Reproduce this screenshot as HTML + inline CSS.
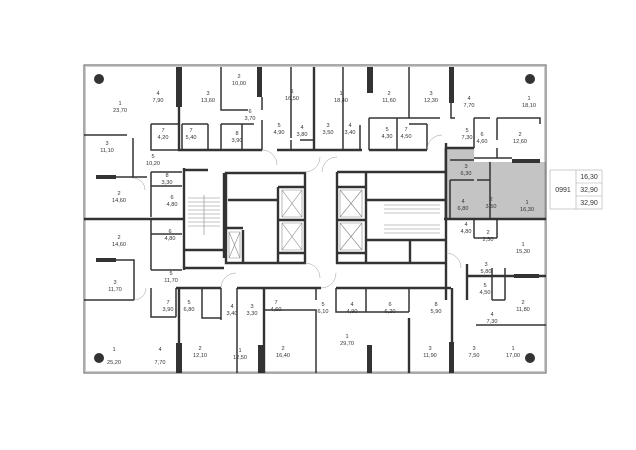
<!DOCTYPE html>
<html><head><meta charset="utf-8"><style>
html,body{margin:0;padding:0;background:#fff;}
svg{display:block;}
text{font-family:"Liberation Sans",sans-serif;font-size:5.6px;fill:#333;text-anchor:middle;}
</style></head><body>
<svg width="636" height="450" viewBox="0 0 636 450" xmlns="http://www.w3.org/2000/svg">
<rect width="636" height="450" fill="#fff"/>
<polygon points="444,148 474,148 474,162 546,162 546,219 444,219" fill="#c4c4c4"/>
<rect x="84" y="65" width="462" height="308" fill="none" stroke="#555" stroke-width="1"/>
<rect x="85.5" y="66.5" width="459" height="305" fill="none" stroke="#999" stroke-width="0.5"/>
<g fill="#333">
<circle cx="99" cy="79" r="5"/><circle cx="530" cy="79" r="5"/>
<circle cx="99" cy="358" r="5"/><circle cx="530" cy="358" r="5"/>
<rect x="176" y="67" width="6" height="40"/><rect x="257" y="67" width="5" height="30"/>
<rect x="367" y="67" width="6" height="26"/><rect x="449" y="67" width="5" height="36"/>
<rect x="96" y="175" width="20" height="4"/><rect x="96" y="258" width="20" height="4"/>
<rect x="512" y="159" width="28" height="4"/><rect x="514" y="274" width="25" height="4"/>
<rect x="176" y="343" width="6" height="30"/><rect x="258" y="345" width="5" height="28"/>
<rect x="367" y="345" width="5" height="28"/><rect x="449" y="342" width="5" height="31"/>
</g>
<g stroke="#333" stroke-width="2.4" fill="none">
<path d="M179,67 V150 H262 M277,150 H362 M369,150 H427"/>
<path d="M314,67 V150"/>
<path d="M84,219 H184"/>
<path d="M446,143 V300"/>
<path d="M444,219 H546"/>
<path d="M446,148 H474"/>
<path d="M176,288 H221 M237,288 H321 M336,288 H451"/>
<path d="M179,288 V373 M264,288 V373 M409,318 V373 M452,288 V373"/>
<path d="M467,264 V300 M467,276 H546"/>
<path d="M184,168 V270 M184,170 H208 M184,268 H224 M224,173 V258 M184,250 H224"/>
<path d="M226,173 H305 V263 H226 Z M228,200 H278 M278,187 V263 M278,187 H305 M278,253 H305 M278,220 H305 M243,230 V263 M226,228 H243"/>
<path d="M337,172 H445 M337,172 V263 H366 M366,172 V263 M337,187 H366 M337,253 H366 M337,220 H366 M366,200 H445 M366,240 H445 M366,263 H445 M366,180 V200 M410,240 V263"/>
</g>
<g stroke="#333" stroke-width="1.5" fill="none">
<path d="M221,67 V110 H248 M262,97 V110 M262,120 V150"/>
<path d="M151,124 V150 H179 M151,124 H179 M182,124 H208 M182,124 V150 M208,124 V150 M221,124 V150 M242,124 V150 M221,124 H254"/>
<path d="M291,67 V138 M291,150 V140 M300,140 H314"/>
<path d="M343,67 V150 M360,125 V150 M369,118 H409 V67 M369,118 V150 M397,118 V150 M427,124 V150 M409,124 H427"/>
<path d="M409,118 H440 M451,103 V118 H455"/>
<path d="M474,118 V148 M474,118 H490 M497,118 V140 M474,158 H512 M497,148 V158 M497,118 H540 V124"/>
<path d="M84,135 H127 M133,138 V178 M116,177 H147"/>
<path d="M151,172 V217 M151,172 H182 M151,186 H182 M151,219 V270 M151,234 H182 M151,270 H182"/>
<path d="M116,260 H134 V300 M84,300 H134"/>
<path d="M151,288 V317 H176 M176,288 V317 M202,288 V318 H221 M221,288 V320"/>
<path d="M237,288 V373 M264,310 H316 V373 M316,288 V300"/>
<path d="M336,288 V312 H409 M366,288 V312 M409,288 V312"/>
<path d="M474,219 V238 M474,238 H497 M497,219 V238 M492,300 V268 M492,300 H505 M505,268 V300 M476,325 H546"/>
<path d="M450,160 H474 M450,180 H474 M477,180 H490 M490,162 V219 M450,180 V219"/>
</g>
<g stroke="#999" stroke-width="0.5" fill="none">
<path d="M262,150 A15,15 0 0 1 277,165"/>
<path d="M322,172 A15,15 0 0 1 337,157"/>
<path d="M305,172 A15,15 0 0 0 320,157"/>
<path d="M305,263 A15,15 0 0 1 320,278"/>
<path d="M321,288 A15,15 0 0 0 336,273"/>
<path d="M221,288 A15,15 0 0 1 236,273"/>
<path d="M427,150 A15,15 0 0 1 442,135"/>
<path d="M446,253 A15,15 0 0 1 461,268"/>
<path d="M133,178 A12,12 0 0 1 145,190"/>
<path d="M134,300 A12,12 0 0 0 146,288"/>
</g>
<g stroke="#888" stroke-width="0.6" fill="none">
<path d="M282,190 H302 V217 H282 Z M282,190 L302,217 M302,190 L282,217"/>
<path d="M282,223 H302 V250 H282 Z M282,223 L302,250 M302,223 L282,250"/>
<path d="M340,190 H362 V217 H340 Z M340,190 L362,217 M362,190 L340,217"/>
<path d="M340,223 H362 V250 H340 Z M340,223 L362,250 M362,223 L340,250"/>
<path d="M229,232 H240 V258 H229 Z M229,232 L240,258 M240,232 L229,258"/>
<path d="M188,198 H220 M188,202 H220 M188,206 H220 M188,210 H220 M188,214 H220 M188,218 H220 M188,222 H220 M188,226 H220 M204,195 V235"/>
<path d="M384,205 H440 M384,209 H440 M384,213 H440 M384,225 H440 M384,229 H440 M384,233 H440"/>
</g>
<g>
<text x="120" y="105">1</text><text x="120" y="112">23,70</text>
<text x="158" y="95">4</text><text x="158" y="102">7,90</text>
<text x="208" y="95">3</text><text x="208" y="102">13,60</text>
<text x="239" y="78">2</text><text x="239" y="85">10,00</text>
<text x="292" y="93">1</text><text x="292" y="100">16,50</text>
<text x="163" y="132">7</text><text x="163" y="139">4,20</text>
<text x="191" y="132">7</text><text x="191" y="139">5,40</text>
<text x="250" y="113">6</text><text x="250" y="120">3,70</text>
<text x="237" y="135">8</text><text x="237" y="142">3,90</text>
<text x="279" y="127">5</text><text x="279" y="134">4,90</text>
<text x="302" y="129">4</text><text x="302" y="136">3,80</text>
<text x="107" y="145">3</text><text x="107" y="152">11,10</text>
<text x="153" y="158">5</text><text x="153" y="165">10,20</text>
<text x="167" y="177">8</text><text x="167" y="184">3,30</text>
<text x="172" y="199">6</text><text x="172" y="206">4,80</text>
<text x="119" y="195">2</text><text x="119" y="202">14,60</text>
<text x="341" y="95">1</text><text x="341" y="102">18,40</text>
<text x="389" y="95">2</text><text x="389" y="102">11,60</text>
<text x="431" y="95">3</text><text x="431" y="102">12,30</text>
<text x="469" y="100">4</text><text x="469" y="107">7,70</text>
<text x="529" y="100">1</text><text x="529" y="107">18,10</text>
<text x="328" y="127">3</text><text x="328" y="134">3,50</text>
<text x="350" y="127">4</text><text x="350" y="134">3,40</text>
<text x="387" y="131">5</text><text x="387" y="138">4,30</text>
<text x="406" y="131">7</text><text x="406" y="138">4,50</text>
<text x="467" y="132">5</text><text x="467" y="139">7,30</text>
<text x="482" y="136">6</text><text x="482" y="143">4,60</text>
<text x="520" y="136">2</text><text x="520" y="143">12,60</text>
<text x="466" y="168">3</text><text x="466" y="175">6,30</text>
<text x="463" y="203">4</text><text x="463" y="210">6,80</text>
<text x="491" y="201">2</text><text x="491" y="208">3,50</text>
<text x="527" y="204">1</text><text x="527" y="211">16,30</text>
<text x="119" y="239">2</text><text x="119" y="246">14,60</text>
<text x="170" y="233">6</text><text x="170" y="240">4,80</text>
<text x="115" y="284">3</text><text x="115" y="291">11,70</text>
<text x="171" y="275">5</text><text x="171" y="282">11,70</text>
<text x="168" y="304">7</text><text x="168" y="311">3,90</text>
<text x="189" y="304">5</text><text x="189" y="311">6,80</text>
<text x="232" y="308">4</text><text x="232" y="315">3,40</text>
<text x="252" y="308">3</text><text x="252" y="315">3,30</text>
<text x="276" y="304">7</text><text x="276" y="311">4,60</text>
<text x="323" y="306">5</text><text x="323" y="313">6,10</text>
<text x="352" y="306">4</text><text x="352" y="313">4,90</text>
<text x="390" y="306">6</text><text x="390" y="313">6,20</text>
<text x="436" y="306">8</text><text x="436" y="313">5,90</text>
<text x="466" y="226">4</text><text x="466" y="233">4,80</text>
<text x="488" y="234">2</text><text x="488" y="241">2,50</text>
<text x="523" y="246">1</text><text x="523" y="253">15,30</text>
<text x="486" y="266">3</text><text x="486" y="273">5,80</text>
<text x="485" y="287">5</text><text x="485" y="294">4,50</text>
<text x="523" y="304">2</text><text x="523" y="311">11,80</text>
<text x="492" y="316">4</text><text x="492" y="323">7,30</text>
<text x="114" y="351">1</text><text x="114" y="364">25,20</text>
<text x="160" y="351">4</text><text x="160" y="364">7,70</text>
<text x="200" y="350">2</text><text x="200" y="357">12,10</text>
<text x="240" y="352">1</text><text x="240" y="359">12,50</text>
<text x="283" y="350">2</text><text x="283" y="357">16,40</text>
<text x="347" y="338">1</text><text x="347" y="345">29,70</text>
<text x="430" y="350">3</text><text x="430" y="357">11,90</text>
<text x="474" y="350">3</text><text x="474" y="357">7,50</text>
<text x="513" y="350">1</text><text x="513" y="357">17,00</text>
</g>
<g stroke="#aaa" stroke-width="0.6" fill="none">
<rect x="550" y="170" width="52" height="39"/>
<path d="M576,170 V209 M576,183 H602 M576,196 H602"/>
</g>
<text x="563" y="192" style="font-size:7px">0991</text>
<text x="589" y="179" style="font-size:7px">16,30</text>
<text x="589" y="192" style="font-size:7px">32,90</text>
<text x="589" y="205" style="font-size:7px">32,90</text>
</svg>
</body></html>
